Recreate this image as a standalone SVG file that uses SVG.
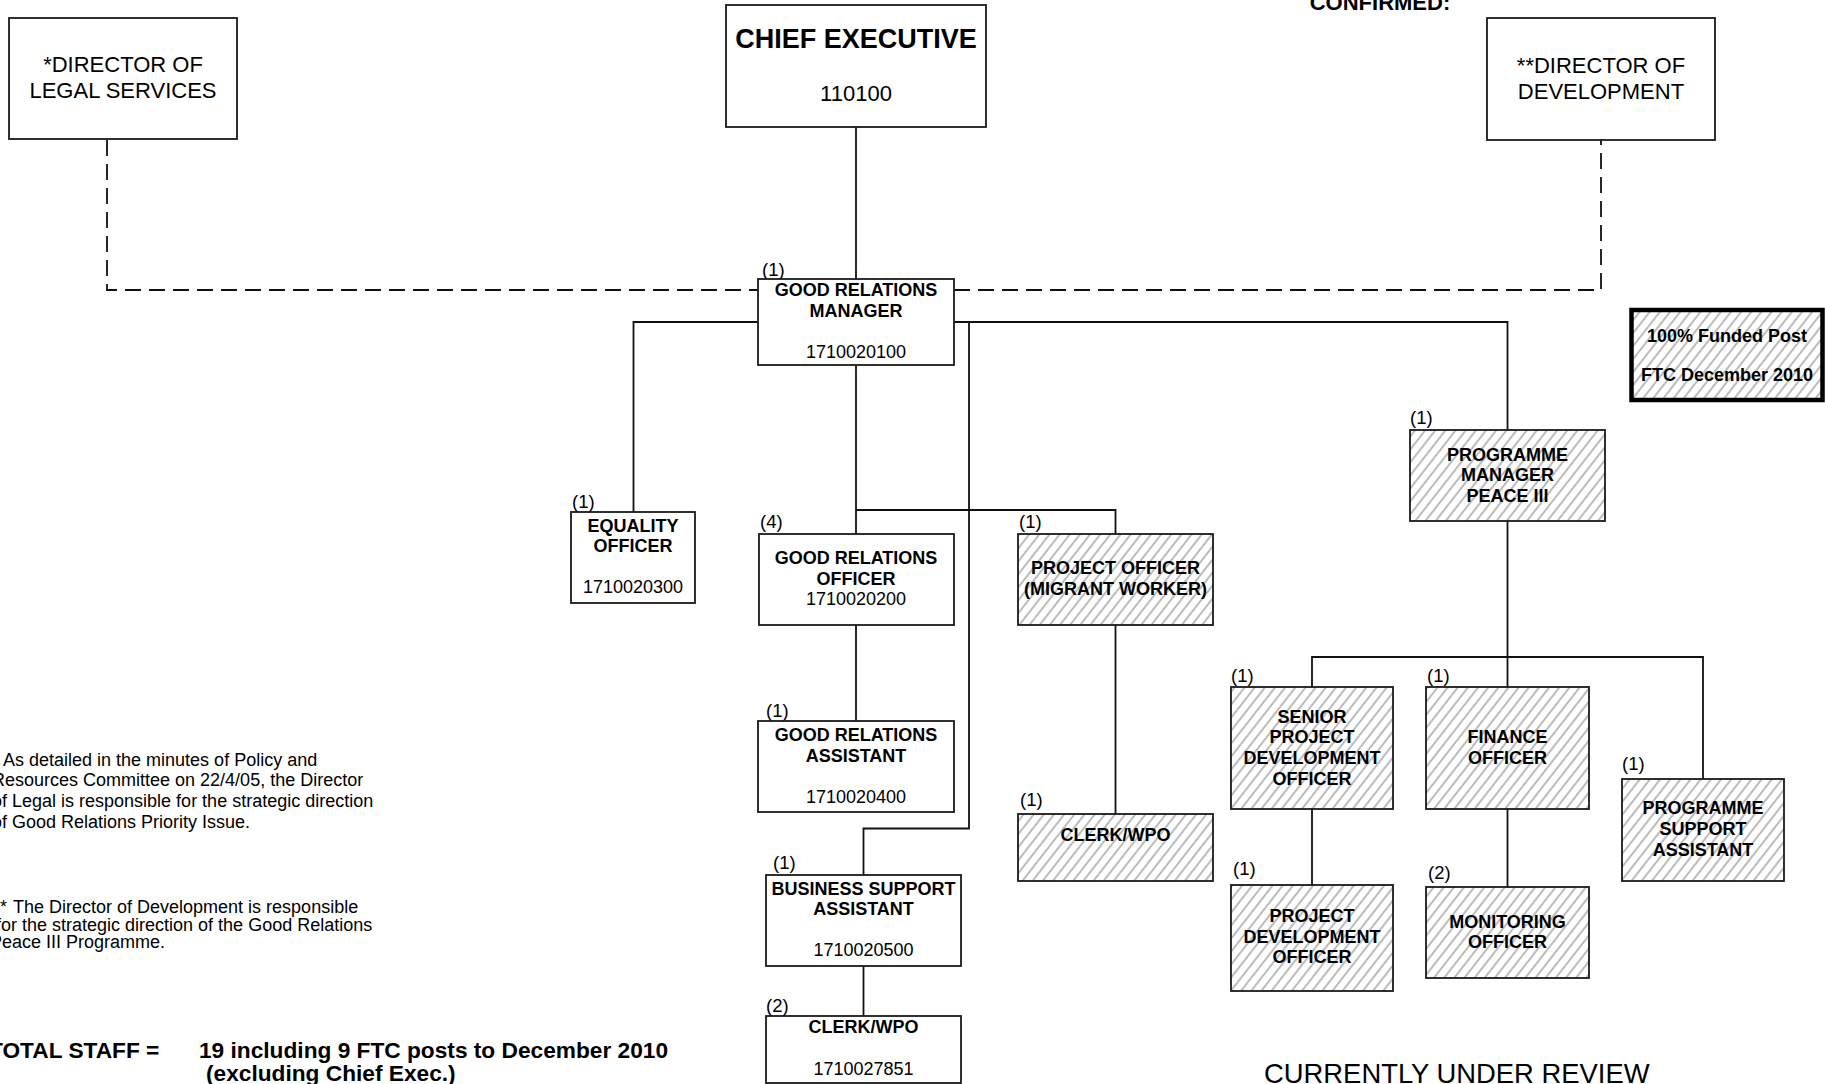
<svg xmlns="http://www.w3.org/2000/svg" width="1825" height="1084" viewBox="0 0 1825 1084">
<defs>
<pattern id="hatch" patternUnits="userSpaceOnUse" width="8" height="10" patternTransform="rotate(38)">
<rect width="8" height="10" fill="#ffffff"/>
<line x1="4" y1="0" x2="4" y2="10" stroke="#858585" stroke-width="1.1"/>
</pattern>
<style>
.box{fill:#ffffff;stroke:#1a1a1a;stroke-width:1.8}
.hbox{fill:url(#hatch);stroke:#1a1a1a;stroke-width:1.8}
.t{font-family:"Liberation Sans",Arial,sans-serif;fill:#000}
.b{font-weight:bold;font-size:18px;text-anchor:middle}
.n{font-size:18px;text-anchor:middle}
.c{font-size:18.5px}
.dir{font-size:22px;text-anchor:middle}
.note{font-size:18px}
.conn{fill:none;stroke:#111;stroke-width:1.8}
.dash{fill:none;stroke:#111;stroke-width:1.8;stroke-dasharray:16 8}
</style>
</defs>
<rect width="1825" height="1084" fill="#ffffff"/>

<g id="connectors">
<path class="dash" d="M107,140 V290 H758"/>
<path class="dash" d="M954,290 H1601 V140"/>
<path class="conn" d="M856,127 V279"/>
<path class="conn" d="M758,322 H633.5 V512"/>
<path class="conn" d="M954,322 H1507.5 V430"/>
<path class="conn" d="M856,365 V534"/>
<path class="conn" d="M856,510 H1115.5 V534"/>
<path class="conn" d="M969,322 V828.5 H863.5 V875"/>
<path class="conn" d="M856,625 V721"/>
<path class="conn" d="M1115.5,625 V814"/>
<path class="conn" d="M863.5,966 V1016"/>
<path class="conn" d="M1507.5,521 V687"/>
<path class="conn" d="M1312,687 V657 H1703 V779"/>
<path class="conn" d="M1312,809 V885"/>
<path class="conn" d="M1507.5,809 V887"/>
</g>

<g id="confirmed">
<text class="t" x="1380" y="10" style="font-weight:bold;font-size:22px;text-anchor:middle">CONFIRMED:</text>
</g>

<g id="director-legal">
<rect class="box" x="9" y="18" width="228" height="121"/>
<text class="t dir" x="123" y="72">*DIRECTOR OF</text>
<text class="t dir" x="123" y="98">LEGAL SERVICES</text>
</g>

<g id="chief-executive">
<rect class="box" x="726" y="5" width="260" height="122"/>
<text class="t" x="856" y="48" style="font-weight:bold;font-size:27px;text-anchor:middle">CHIEF EXECUTIVE</text>
<text class="t dir" x="856" y="101">110100</text>
</g>

<g id="director-development">
<rect class="box" x="1487" y="18" width="228" height="122"/>
<text class="t dir" x="1601" y="73">**DIRECTOR OF</text>
<text class="t dir" x="1601" y="99">DEVELOPMENT</text>
</g>

<g id="legend">
<rect x="1631.5" y="310" width="191" height="90" fill="url(#hatch)" stroke="#000" stroke-width="4.5"/>
<text class="t b" x="1727" y="342">100% Funded Post</text>
<text class="t b" x="1727" y="381">FTC December 2010</text>
</g>

<g id="good-relations-manager">
<text class="t c" x="762" y="276">(1)</text>
<rect class="box" x="758" y="279" width="196" height="86"/>
<text class="t b" x="856" y="296">GOOD RELATIONS</text>
<text class="t b" x="856" y="317">MANAGER</text>
<text class="t n" x="856" y="358">1710020100</text>
</g>

<g id="equality-officer">
<text class="t c" x="572" y="508">(1)</text>
<rect class="box" x="571" y="512" width="124" height="91"/>
<text class="t b" x="633" y="532">EQUALITY</text>
<text class="t b" x="633" y="552">OFFICER</text>
<text class="t n" x="633" y="593">1710020300</text>
</g>

<g id="good-relations-officer">
<text class="t c" x="760" y="528">(4)</text>
<rect class="box" x="759" y="534" width="195" height="91"/>
<text class="t b" x="856" y="564">GOOD RELATIONS</text>
<text class="t b" x="856" y="585">OFFICER</text>
<text class="t n" x="856" y="605">1710020200</text>
</g>

<g id="project-officer">
<text class="t c" x="1019" y="528">(1)</text>
<rect class="hbox" x="1018" y="534" width="195" height="91"/>
<text class="t b" x="1115.5" y="574">PROJECT OFFICER</text>
<text class="t b" x="1115.5" y="595">(MIGRANT WORKER)</text>
</g>

<g id="good-relations-assistant">
<text class="t c" x="766" y="717">(1)</text>
<rect class="box" x="758" y="721" width="196" height="91"/>
<text class="t b" x="856" y="741">GOOD RELATIONS</text>
<text class="t b" x="856" y="762">ASSISTANT</text>
<text class="t n" x="856" y="803">1710020400</text>
</g>

<g id="clerk-wpo-hatched">
<text class="t c" x="1020" y="806">(1)</text>
<rect class="hbox" x="1018" y="814" width="195" height="67"/>
<text class="t b" x="1115.5" y="841">CLERK/WPO</text>
</g>

<g id="business-support-assistant">
<text class="t c" x="773" y="869">(1)</text>
<rect class="box" x="766" y="875" width="195" height="91"/>
<text class="t b" x="863.5" y="895">BUSINESS SUPPORT</text>
<text class="t b" x="863.5" y="915">ASSISTANT</text>
<text class="t n" x="863.5" y="956">1710020500</text>
</g>

<g id="clerk-wpo">
<text class="t c" x="766" y="1012">(2)</text>
<rect class="box" x="766" y="1016" width="195" height="67"/>
<text class="t b" x="863.5" y="1033">CLERK/WPO</text>
<text class="t n" x="863.5" y="1075">1710027851</text>
</g>

<g id="programme-manager">
<text class="t c" x="1410" y="424">(1)</text>
<rect class="hbox" x="1410" y="430" width="195" height="91"/>
<text class="t b" x="1507.5" y="461">PROGRAMME</text>
<text class="t b" x="1507.5" y="481">MANAGER</text>
<text class="t b" x="1507.5" y="502">PEACE III</text>
</g>

<g id="senior-project-development-officer">
<text class="t c" x="1231" y="682">(1)</text>
<rect class="hbox" x="1231" y="687" width="162" height="122"/>
<text class="t b" x="1312" y="723">SENIOR</text>
<text class="t b" x="1312" y="743">PROJECT</text>
<text class="t b" x="1312" y="764">DEVELOPMENT</text>
<text class="t b" x="1312" y="785">OFFICER</text>
</g>

<g id="finance-officer">
<text class="t c" x="1427" y="682">(1)</text>
<rect class="hbox" x="1426" y="687" width="163" height="122"/>
<text class="t b" x="1507.5" y="743">FINANCE</text>
<text class="t b" x="1507.5" y="764">OFFICER</text>
</g>

<g id="programme-support-assistant">
<text class="t c" x="1622" y="770">(1)</text>
<rect class="hbox" x="1622" y="779" width="162" height="102"/>
<text class="t b" x="1703" y="814">PROGRAMME</text>
<text class="t b" x="1703" y="835">SUPPORT</text>
<text class="t b" x="1703" y="856">ASSISTANT</text>
</g>

<g id="project-development-officer">
<text class="t c" x="1233" y="875">(1)</text>
<rect class="hbox" x="1231" y="885" width="162" height="106"/>
<text class="t b" x="1312" y="922">PROJECT</text>
<text class="t b" x="1312" y="943">DEVELOPMENT</text>
<text class="t b" x="1312" y="963">OFFICER</text>
</g>

<g id="monitoring-officer">
<text class="t c" x="1428" y="879">(2)</text>
<rect class="hbox" x="1426" y="887" width="163" height="91"/>
<text class="t b" x="1507.5" y="928">MONITORING</text>
<text class="t b" x="1507.5" y="948">OFFICER</text>
</g>

<g id="notes">
<text class="t note" y="766"><tspan x="-7">*</tspan><tspan x="3">As detailed in the minutes of Policy and</tspan></text>
<text class="t note" x="-8" y="786">Resources Committee on 22/4/05, the Director</text>
<text class="t note" x="-8" y="807">of Legal is responsible for the strategic direction</text>
<text class="t note" x="-8" y="828">of Good Relations Priority Issue.</text>
<text class="t note" y="913"><tspan x="-7">**</tspan><tspan x="13">The Director of Development is responsible</tspan></text>
<text class="t note" x="-4" y="931">for the strategic direction of the Good Relations</text>
<text class="t note" x="-10" y="948">Peace III Programme.</text>
<text class="t" x="-11" y="1058" style="font-weight:bold;font-size:22.7px">TOTAL STAFF =</text>
<text class="t" x="199" y="1058" style="font-weight:bold;font-size:22.7px">19 including 9 FTC posts to December 2010</text>
<text class="t" x="206" y="1081" style="font-weight:bold;font-size:22.7px">(excluding Chief Exec.)</text>
<text class="t" x="1264" y="1083" style="font-size:27.4px">CURRENTLY UNDER REVIEW</text>
</g>
</svg>
